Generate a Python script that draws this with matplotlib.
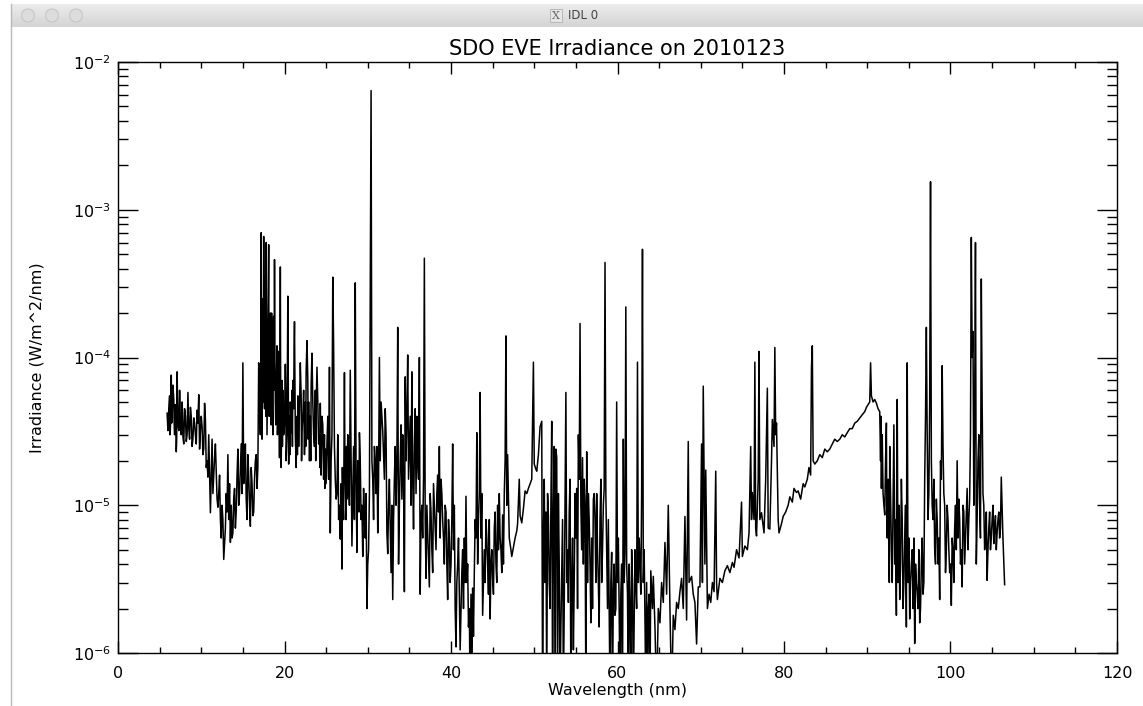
import numpy as np
import matplotlib
matplotlib.use("Agg")
import matplotlib.pyplot as plt
from matplotlib.ticker import LogLocator, MultipleLocator, NullFormatter
from matplotlib.patches import Circle, Rectangle
from matplotlib.lines import Line2D

# spectrum, (wavelength nm, irradiance W/m^2/nm)
soft_xray = [
    (5.9, 4.2e-5), (6.0, 3.2e-5), (6.2, 5.5e-5), (6.3, 3.4e-5), (6.4, 7.6e-5),
    (6.5, 4.0e-5), (6.7, 5.2e-5), (6.8, 3.0e-5), (7.0, 2.3e-5), (7.1, 8.0e-5),
    (7.2, 3.6e-5), (7.4, 6.0e-5), (7.5, 3.3e-5), (7.7, 5.0e-5), (7.8, 2.9e-5),
    (8.0, 4.5e-5), (8.2, 2.7e-5), (8.4, 5.8e-5), (8.5, 3.3e-5), (8.7, 4.6e-5),
    (8.9, 2.5e-5), (9.1, 3.9e-5), (9.3, 3.0e-5), (9.5, 4.4e-5), (9.7, 5.6e-5),
    (9.8, 2.4e-5), (10.0, 4.0e-5), (10.2, 2.2e-5), (10.4, 4.9e-5), (10.6, 1.8e-5),
    (10.8, 1.55e-5), (10.9, 3.0e-5), (11.1, 8.9e-6), (11.3, 2.8e-5), (11.4, 1.2e-5),
    (11.6, 2.1e-5), (11.7, 2.6e-5), (11.9, 1.1e-5), (12.0, 9.7e-6), (12.2, 1.6e-5),
    (12.4, 6.0e-6), (12.6, 8.0e-6), (12.7, 4.3e-6), (12.9, 7.0e-6), (13.0, 1.2e-5),
    (13.2, 2.2e-5), (13.3, 8.0e-6), (13.5, 5.6e-6), (13.6, 1.0e-5), (13.8, 6.5e-6),
    (14.0, 1.3e-5), (14.2, 9.0e-6), (14.4, 2.4e-5), (14.6, 1.2e-5), (14.8, 2.6e-5),
    (15.0, 9.2e-5), (15.1, 1.4e-5), (15.3, 2.6e-5), (15.5, 8.0e-6), (15.7, 1.6e-5),
    (15.9, 7.2e-6), (16.1, 1.4e-5), (16.3, 9.0e-6), (16.5, 2.0e-5), (16.7, 1.3e-5),
    (16.9, 9.2e-5), (17.0, 4.2e-5),
]

iron_lines = [
    (17.1, 3.0e-5), (17.2, 7.0e-4), (17.3, 2.8e-5), (17.4, 1.5e-4), (17.5, 6.6e-4),
    (17.6, 4.5e-5), (17.7, 2.0e-4), (17.8, 6.0e-4), (17.9, 3.0e-5), (18.0, 1.0e-4),
    (18.1, 5.8e-4), (18.2, 6.0e-5), (18.3, 2.0e-4), (18.4, 3.5e-5), (18.5, 1.1e-4),
    (18.6, 3.0e-5), (18.7, 1.9e-4), (18.8, 4.6e-4), (18.9, 5.0e-5), (19.0, 4.0e-5),
    (19.1, 1.2e-4), (19.2, 3.8e-5), (19.3, 8.0e-5), (19.4, 2.1e-5), (19.5, 4.1e-4),
    (19.6, 1.8e-5), (19.8, 6.0e-5), (19.9, 3.0e-5), (20.1, 9.0e-5), (20.2, 2.0e-5),
    (20.4, 2.6e-4), (20.5, 1.9e-5), (20.7, 5.0e-5), (20.8, 3.1e-5), (21.0, 7.0e-5),
    (21.2, 1.75e-4), (21.3, 3.0e-5), (21.4, 1.8e-5), (21.6, 5.5e-5), (21.7, 2.5e-5),
    (21.9, 9.2e-5), (22.1, 3.2e-5), (22.3, 6.0e-5), (22.4, 2.2e-5), (22.6, 8.0e-5),
    (22.7, 1.3e-4), (22.9, 5.0e-5), (23.0, 2.0e-5), (23.2, 6.5e-5), (23.3, 1.07e-4),
    (23.5, 3.0e-5), (23.6, 2.5e-5), (23.8, 4.5e-5), (23.9, 8.6e-5), (24.1, 2.6e-5),
    (24.3, 4.9e-5), (24.4, 1.6e-5), (24.6, 3.5e-5), (24.7, 1.5e-5), (24.9, 2.4e-5),
    (25.0, 1.4e-5), (25.2, 4.0e-5), (25.4, 8.6e-5), (25.5, 6.5e-6), (25.6, 2.0e-5),
    (25.8, 3.5e-4), (25.9, 1.2e-4), (26.1, 1.5e-5), (26.2, 1.1e-5), (26.4, 3.0e-5),
    (26.5, 8.0e-6), (26.7, 5.9e-6), (26.8, 1.4e-5), (26.9, 3.7e-6), (27.0, 1.2e-5),
    (27.2, 7.9e-5), (27.3, 1.5e-5), (27.5, 1.1e-5), (27.6, 3.0e-5), (27.8, 1.0e-5),
    (27.9, 8.2e-5), (28.0, 2.0e-5), (28.1, 5.3e-6), (28.3, 2.5e-5), (28.5, 3.2e-4),
    (28.6, 1.5e-5), (28.7, 4.8e-6), (28.9, 1.5e-5), (29.0, 3.1e-5), (29.2, 8.0e-6),
    (29.4, 4.5e-6), (29.5, 1.3e-5), (29.7, 6.0e-6), (29.9, 2.0e-6), (30.1, 5.0e-6),
    (30.2, 1.2e-5),
]

he_ii_region = [
    (30.4, 6.4e-3), (30.5, 2.0e-5), (30.7, 8.0e-6), (30.9, 2.0e-5), (31.0, 1.2e-5),
    (31.2, 6.5e-6), (31.4, 1.0e-4), (31.5, 2.0e-5), (31.7, 4.0e-5), (31.8, 3.2e-5),
    (32.0, 1.5e-5), (32.1, 4.5e-5), (32.3, 6.5e-6), (32.4, 4.7e-6), (32.6, 1.5e-5),
    (32.8, 3.5e-6), (33.0, 2.3e-6), (33.1, 8.0e-6), (33.3, 2.5e-5), (33.4, 1.0e-5),
    (33.6, 1.6e-4), (33.7, 4.0e-6), (33.9, 2.0e-5), (34.1, 1.1e-5), (34.2, 3.0e-5),
    (34.4, 2.6e-6), (34.5, 7.4e-5), (34.6, 2.0e-5), (34.8, 1.04e-4), (34.9, 1.5e-5),
    (35.1, 4.0e-5), (35.2, 1.0e-5), (35.3, 8.0e-5), (35.5, 6.9e-6), (35.6, 2.5e-5),
    (35.8, 1.2e-5), (35.9, 4.0e-5), (36.1, 1.5e-5), (36.2, 1.0e-4), (36.3, 2.5e-6),
    (36.5, 1.0e-5), (36.6, 6.0e-6), (36.8, 4.7e-4), (36.9, 8.0e-6), (37.0, 3.2e-6),
    (37.2, 6.5e-6), (37.4, 2.8e-6), (37.6, 9.0e-6), (37.8, 3.5e-6), (38.0, 1.0e-5),
    (38.2, 5.0e-6), (38.4, 1.6e-5), (38.6, 2.5e-5), (38.7, 6.0e-6), (38.9, 1.2e-5),
    (39.0, 7.9e-6), (39.2, 4.0e-6), (39.4, 9.0e-6), (39.6, 2.3e-6), (39.8, 6.0e-6),
    (40.0, 4.0e-6), (40.2, 2.6e-5), (40.3, 5.0e-6), (40.5, 2.0e-6), (40.6, 1.1e-6),
    (40.8, 4.0e-6), (41.0, 2.5e-6), (41.1, 1.05e-6), (41.3, 3.5e-6), (41.5, 2.0e-6),
    (41.6, 6.0e-6), (41.8, 1.15e-5), (41.9, 3.0e-6), (42.1, 1.5e-6), (42.3, 5.0e-7),
    (42.4, 2.5e-6), (42.6, 2.75e-6), (42.7, 1.3e-6), (42.9, 8.0e-6), (43.1, 3.1e-5),
    (43.2, 4.0e-6), (43.4, 1.2e-5), (43.5, 5.8e-5), (43.6, 6.0e-6), (43.8, 1.8e-6),
    (44.0, 5.0e-6), (44.1, 3.0e-6), (44.3, 6.0e-6), (44.5, 2.5e-6), (44.7, 1.7e-6),
    (44.8, 4.0e-6), (45.0, 3.2e-6), (45.2, 7.0e-6), (45.4, 4.0e-6), (45.6, 1.0e-5),
    (45.7, 5.0e-6), (45.9, 6.0e-6), (46.1, 3.5e-6), (46.2, 8.6e-6), (46.4, 1.2e-5),
    (46.6, 1.4e-4), (46.7, 1.0e-5), (46.8, 2.2e-5), (47.0, 6.0e-6), (47.2, 5.0e-6),
    (47.3, 4.5e-6), (47.5, 5.2e-6), (47.7, 6.0e-6), (47.9, 6.7e-6), (48.0, 7.5e-6),
    (48.2, 1.5e-5), (48.3, 8.5e-6), (48.5, 7.6e-6), (48.7, 9.5e-6), (48.9, 1.25e-5),
    (49.1, 1.2e-5), (49.3, 1.3e-5), (49.5, 1.4e-5), (49.7, 1.5e-5), (49.9, 9.3e-5),
    (50.0, 1.9e-5), (50.2, 1.75e-5), (50.3, 1.7e-5), (50.5, 2.2e-5), (50.7, 3.4e-5),
    (50.9, 3.7e-5),
]

he_i_region = [
    (51.0, 5.0e-7), (51.2, 1.5e-5), (51.4, 9.0e-6), (51.5, 5.0e-7), (51.7, 8.5e-6),
    (51.9, 2.0e-6), (52.1, 3.7e-5), (52.2, 5.0e-7), (52.4, 2.5e-5), (52.6, 2.4e-5),
    (52.7, 2.1e-5), (52.8, 5.0e-7), (53.0, 4.0e-6), (53.2, 1.5e-6), (53.4, 8.0e-6),
    (53.6, 2.0e-6), (53.8, 5.8e-5), (54.0, 5.0e-6), (54.1, 2.2e-6), (54.3, 1.5e-5),
    (54.5, 3.0e-6), (54.7, 1.05e-6), (54.9, 1.2e-5), (55.1, 1.3e-5), (55.3, 3.0e-5),
    (55.5, 1.7e-4), (55.6, 1.0e-5), (55.8, 2.1e-5), (55.9, 4.0e-6), (56.1, 1.0e-5),
    (56.3, 2.3e-5), (56.4, 3.0e-6), (56.6, 8.0e-6), (56.8, 1.6e-6), (56.9, 6.0e-6),
    (57.1, 1.1e-5), (57.2, 1.2e-5), (57.4, 3.0e-6), (57.6, 5.0e-6), (57.8, 1.5e-6),
    (58.0, 1.5e-5), (58.2, 5.0e-6), (58.4, 1.3e-5), (58.5, 4.4e-4), (58.6, 1.2e-5),
    (58.8, 2.0e-6), (59.1, 5.0e-7), (59.3, 4.8e-6), (59.5, 2.5e-6), (59.7, 1.8e-6),
    (59.9, 5.0e-5), (60.0, 3.0e-6), (60.3, 5.0e-7), (60.5, 4.0e-6), (60.7, 2.8e-5),
    (60.8, 3.0e-6), (61.0, 2.2e-4), (61.1, 4.0e-6), (61.3, 5.0e-7), (61.5, 2.0e-6),
    (61.7, 5.0e-6), (62.0, 1.7e-6), (62.2, 3.0e-6), (62.4, 9.3e-5), (62.5, 3.0e-6),
    (62.7, 4.1e-6), (62.9, 1.2e-5), (63.0, 5.4e-4), (63.1, 3.0e-6), (63.3, 1.7e-6),
    (63.6, 5.0e-7), (63.8, 2.5e-6),
]

lyman_cont = [
    (64.0, 3.6e-6), (64.2, 2.0e-6), (64.3, 3.3e-6), (64.5, 1.5e-6), (64.7, 5.0e-7),
    (64.9, 2.0e-6), (65.1, 1.6e-6), (65.3, 3.0e-6), (65.5, 2.2e-6), (65.7, 5.6e-6),
    (65.9, 2.5e-6), (66.1, 1.0e-5), (66.3, 2.0e-6), (66.5, 5.0e-7), (66.7, 1.8e-6),
    (66.9, 1.44e-6), (67.1, 2.2e-6), (67.3, 2.0e-6), (67.5, 2.6e-6), (67.7, 3.2e-6),
    (67.9, 2.0e-6), (68.1, 8.4e-6), (68.3, 1.67e-6), (68.5, 2.7e-5), (68.6, 3.0e-6),
    (68.9, 3.3e-6), (69.1, 2.5e-6), (69.3, 2.2e-6), (69.5, 1.15e-6), (69.7, 2.8e-6),
    (69.9, 2.8e-6), (70.1, 2.6e-5), (70.2, 3.0e-6), (70.3, 6.4e-5), (70.5, 4.0e-6),
    (70.6, 1.73e-5), (70.8, 2.0e-6), (71.0, 2.5e-6), (71.2, 2.2e-6), (71.4, 3.0e-6),
    (71.6, 2.6e-6), (71.8, 1.7e-5), (71.9, 3.0e-6), (72.0, 2.3e-6), (72.3, 3.2e-6),
    (72.6, 3.0e-6), (72.9, 3.6e-6), (73.2, 3.9e-6), (73.5, 3.5e-6), (73.8, 4.1e-6),
    (74.0, 3.8e-6), (74.3, 5.0e-6), (74.6, 4.4e-6), (74.9, 1.05e-5), (75.0, 4.5e-6),
    (75.3, 5.3e-6), (75.6, 5.0e-6), (75.8, 6.5e-6), (76.0, 2.5e-5), (76.1, 8.0e-6),
    (76.2, 1.22e-5), (76.4, 8.0e-6), (76.5, 9.3e-5), (76.6, 7.0e-6), (76.7, 6.2e-6),
    (76.9, 1.5e-5), (77.0, 1.1e-4), (77.1, 8.0e-6), (77.3, 8.9e-6), (77.6, 6.5e-6),
    (77.8, 1.5e-5), (78.0, 6.2e-5), (78.1, 7.0e-6), (78.3, 6.9e-6), (78.5, 2.0e-5),
    (78.6, 3.8e-5), (78.8, 2.5e-5), (78.9, 1.17e-4), (79.0, 3.0e-5), (79.1, 3.6e-5),
    (79.3, 8.0e-6), (79.4, 6.5e-6), (79.7, 7.5e-6), (79.9, 8.4e-6), (80.2, 9.0e-6),
    (80.5, 1.0e-5), (80.7, 1.14e-5), (81.0, 1.05e-5), (81.2, 1.3e-5), (81.5, 1.22e-5),
    (81.7, 1.25e-5), (82.0, 1.1e-5), (82.3, 1.4e-5), (82.5, 1.33e-5), (82.8, 1.5e-5),
    (83.0, 1.8e-5), (83.2, 1.6e-5), (83.3, 8.6e-5), (83.4, 1.2e-4), (83.5, 2.0e-5),
    (83.7, 1.9e-5), (84.0, 2.0e-5), (84.3, 2.2e-5), (84.6, 2.1e-5), (84.9, 2.4e-5),
    (85.2, 2.3e-5), (85.5, 2.4e-5), (85.8, 2.6e-5), (86.1, 2.8e-5), (86.4, 2.7e-5),
    (86.7, 2.8e-5), (87.0, 3.0e-5), (87.3, 2.9e-5), (87.6, 3.1e-5), (87.9, 3.3e-5),
    (88.2, 3.3e-5), (88.5, 3.6e-5), (88.8, 3.7e-5), (89.1, 3.9e-5), (89.4, 4.1e-5),
    (89.7, 4.3e-5), (89.9, 4.6e-5), (90.1, 4.8e-5), (90.3, 5.0e-5), (90.4, 9.2e-5),
    (90.5, 5.5e-5), (90.7, 5.0e-5), (90.9, 5.2e-5), (91.1, 4.9e-5), (91.3, 4.5e-5),
    (91.5, 4.3e-5),
]

lyman_lines = [
    (91.6, 2.0e-5), (91.7, 1.3e-5), (91.8, 3.0e-5), (92.0, 1.0e-5), (92.1, 8.6e-6),
    (92.3, 3.6e-5), (92.4, 6.0e-6), (92.6, 4.5e-6), (92.7, 2.5e-5), (92.9, 5.0e-6),
    (93.0, 3.0e-6), (93.2, 3.5e-5), (93.3, 4.0e-6), (93.5, 1.8e-6), (93.6, 5.2e-5),
    (93.7, 3.0e-6), (93.9, 2.3e-6), (94.1, 1.5e-5), (94.3, 2.0e-6), (94.5, 6.0e-6),
    (94.7, 1.5e-6), (94.8, 9.2e-5), (94.9, 3.0e-6), (95.1, 1.7e-6), (95.3, 4.0e-6),
    (95.5, 2.0e-6), (95.6, 6.0e-6), (95.7, 1.16e-6), (95.9, 3.0e-6), (96.1, 2.0e-6),
    (96.3, 1.6e-6), (96.5, 4.0e-6), (96.7, 2.5e-6), (96.9, 1.5e-5), (97.0, 4.0e-5),
    (97.1, 1.6e-4), (97.3, 8.0e-6), (97.5, 5.0e-5), (97.6, 1.55e-3), (97.7, 2.0e-5),
    (97.9, 8.0e-6), (98.1, 5.0e-6), (98.3, 1.1e-5), (98.5, 4.0e-6), (98.7, 2.3e-6),
    (98.8, 2.0e-5), (99.0, 8.8e-5), (99.1, 2.5e-5), (99.3, 1.0e-5), (99.5, 5.0e-6),
    (99.7, 8.0e-6), (99.9, 3.5e-6), (100.1, 2.1e-6), (100.3, 5.0e-6), (100.5, 7.0e-6),
    (100.8, 2.0e-5), (100.9, 6.0e-6), (101.1, 8.0e-6), (101.3, 5.0e-6), (101.4, 2.8e-6),
    (101.6, 9.0e-6), (101.8, 6.0e-6), (102.0, 1.3e-5), (102.2, 8.0e-6), (102.4, 3.0e-5),
    (102.5, 6.5e-4), (102.6, 1.0e-4), (102.7, 1.5e-4), (102.8, 1.0e-5), (102.9, 4.0e-5),
    (103.0, 6.0e-4), (103.1, 4.0e-6), (103.3, 2.0e-5), (103.5, 1.0e-5), (103.7, 3.4e-4),
    (103.8, 5.0e-5), (104.0, 1.0e-5), (104.2, 6.0e-6), (104.4, 3.1e-6), (104.6, 7.0e-6),
    (104.8, 5.0e-6), (105.0, 8.0e-6), (105.2, 5.5e-6), (105.4, 8.5e-6), (105.6, 6.5e-6),
    (105.8, 9.0e-6), (106.0, 7.0e-6), (106.1, 1.55e-5), (106.3, 6.0e-6), (106.5, 2.9e-6),
]

# weaker samples between the lines
band_fill = [
    (6.1, 4.5e-5), (6.25, 3.0e-5), (6.35, 6.0e-5), (6.45, 3.6e-5), (6.6, 6.5e-5),
    (6.75, 3.5e-5), (6.9, 4.8e-5), (7.05, 2.8e-5), (7.15, 5.5e-5), (7.3, 3.2e-5),
    (7.45, 4.8e-5), (7.6, 3.0e-5), (7.75, 4.2e-5), (7.9, 2.6e-5), (8.1, 4.0e-5),
    (8.3, 3.0e-5), (8.45, 4.4e-5), (8.6, 2.8e-5), (8.8, 4.0e-5), (9.0, 2.8e-5),
    (9.2, 3.6e-5), (9.4, 2.6e-5), (9.6, 3.6e-5), (9.9, 3.2e-5), (10.1, 3.4e-5),
    (10.3, 2.4e-5), (10.5, 3.8e-5), (10.7, 2.0e-5),
    (12.1, 1.2e-5), (12.3, 8.0e-6), (12.5, 1.0e-5), (12.8, 5.5e-6), (13.1, 9.0e-6),
    (13.4, 1.4e-5), (13.7, 6.0e-6), (13.9, 1.1e-5), (14.1, 7.0e-6), (14.3, 1.6e-5),
    (14.5, 1.0e-5), (14.7, 1.8e-5), (14.9, 1.2e-5), (15.2, 2.0e-5), (15.4, 1.1e-5),
    (15.6, 2.2e-5), (15.8, 1.0e-5), (16.0, 1.8e-5), (16.2, 8.5e-6), (16.4, 1.5e-5),
    (16.6, 2.2e-5), (16.8, 1.8e-5),
    (17.15, 1.0e-4), (17.25, 4.0e-5), (17.35, 2.5e-4), (17.45, 5.0e-5), (17.55, 1.2e-4),
    (17.65, 3.5e-4), (17.75, 4.0e-5), (17.85, 1.5e-4), (17.95, 6.0e-5), (18.05, 2.5e-4),
    (18.15, 4.0e-5), (18.25, 1.3e-4), (18.35, 5.0e-5), (18.45, 2.0e-4), (18.55, 4.5e-5),
    (18.65, 1.2e-4), (18.75, 6.0e-5), (18.85, 1.0e-4), (18.95, 3.5e-5), (19.05, 8.0e-5),
    (19.15, 3.0e-5), (19.25, 1.1e-4), (19.35, 4.0e-5), (19.45, 7.0e-5), (19.55, 3.0e-5),
    (19.7, 7.0e-5), (19.75, 2.5e-5),
    (20.0, 3.5e-5), (20.15, 6.0e-5), (20.3, 3.0e-5), (20.35, 8.0e-5), (20.6, 4.0e-5),
    (20.65, 2.2e-5), (20.9, 6.0e-5), (20.95, 2.5e-5), (21.1, 4.5e-5), (21.15, 1.1e-4),
    (21.5, 4.0e-5), (21.55, 2.2e-5), (21.8, 4.5e-5), (22.0, 5.5e-5), (22.05, 2.0e-5),
    (22.2, 4.0e-5), (22.5, 5.0e-5), (22.55, 2.5e-5), (22.8, 7.0e-5), (22.85, 2.8e-5),
    (23.1, 4.0e-5), (23.15, 2.0e-5), (23.4, 5.0e-5), (23.7, 6.0e-5), (23.75, 2.0e-5),
    (24.0, 5.0e-5), (24.2, 3.0e-5), (24.25, 1.8e-5), (24.5, 4.0e-5), (24.8, 3.0e-5),
    (24.85, 1.3e-5), (25.1, 2.6e-5), (25.3, 1.5e-5),
    (25.7, 3.0e-5), (26.0, 2.5e-5), (26.3, 1.2e-5), (26.45, 2.0e-5), (26.6, 1.0e-5),
    (26.85, 7.0e-6), (26.95, 1.8e-5), (27.1, 8.0e-6), (27.25, 2.2e-5), (27.4, 8.0e-6),
    (27.45, 2.5e-5), (27.7, 1.4e-5), (27.85, 2.6e-5), (28.2, 1.2e-5), (28.4, 8.0e-6),
    (28.8, 2.0e-5), (28.95, 9.0e-6), (29.1, 2.0e-5), (29.3, 1.0e-5), (29.6, 8.0e-6),
    (29.8, 1.2e-5), (30.0, 4.0e-6),
    (30.6, 1.5e-5), (30.8, 2.5e-5), (31.1, 2.5e-5), (31.3, 1.5e-5), (31.6, 5.0e-5),
    (31.9, 2.2e-5), (32.2, 3.0e-5), (32.5, 1.0e-5), (32.7, 7.0e-6), (32.9, 1.0e-5),
    (33.2, 1.5e-5), (33.5, 2.0e-5), (33.8, 1.0e-5), (34.0, 3.5e-5), (34.3, 1.5e-5),
    (34.7, 4.0e-5), (35.0, 2.5e-5), (35.4, 1.5e-5), (35.7, 4.5e-5), (36.0, 2.0e-5),
    (36.4, 8.0e-6), (36.7, 1.5e-5), (37.1, 1.0e-5), (37.3, 4.0e-6), (37.5, 1.2e-5),
    (37.7, 5.0e-6), (37.9, 1.4e-5), (38.1, 7.0e-6), (38.3, 1.2e-5), (38.5, 9.0e-6),
    (38.8, 1.5e-5), (39.1, 6.0e-6), (39.3, 1.0e-5), (39.5, 4.0e-6), (39.7, 8.0e-6),
    (39.9, 3.0e-6), (40.1, 8.0e-6),
    (40.4, 1.0e-5), (40.7, 3.0e-6), (40.9, 6.0e-6), (41.2, 2.0e-6), (41.4, 5.0e-6),
    (41.7, 3.0e-6), (42.0, 4.0e-6), (42.2, 2.0e-6), (42.5, 5.0e-7), (42.8, 3.5e-6),
    (43.0, 6.0e-6), (43.3, 8.0e-6), (43.7, 1.2e-5), (43.9, 3.0e-6), (44.2, 8.0e-6),
    (44.4, 4.0e-6), (44.6, 8.0e-6), (44.9, 5.0e-6), (45.1, 2.5e-6), (45.3, 9.0e-6),
    (45.5, 3.0e-6), (45.8, 1.2e-5), (46.0, 5.0e-6), (46.3, 4.0e-6), (46.5, 2.0e-5),
    (51.1, 6.0e-6), (51.3, 3.0e-6), (51.6, 1.2e-5), (51.8, 3.0e-6), (52.0, 1.0e-5),
    (52.3, 8.0e-6), (52.5, 5.0e-7), (52.9, 1.2e-5), (53.1, 5.0e-7), (53.3, 3.5e-6),
    (53.5, 5.0e-7), (53.7, 1.0e-5), (53.9, 3.0e-6), (54.2, 9.0e-6), (54.4, 5.0e-7),
    (54.6, 6.0e-6), (54.8, 3.0e-6), (55.0, 6.0e-6), (55.2, 2.0e-6), (55.4, 1.5e-5),
    (55.7, 5.0e-6), (56.0, 1.5e-5), (56.2, 5.0e-7), (56.5, 1.2e-5), (56.7, 4.0e-6),
    (57.0, 2.0e-6), (57.3, 8.0e-6), (57.5, 1.2e-5), (57.7, 3.0e-6), (57.9, 8.0e-6),
    (58.1, 3.0e-6), (58.3, 1.0e-5), (58.7, 5.0e-6), (58.9, 8.0e-6), (59.0, 2.0e-6),
    (59.2, 3.0e-6), (59.4, 5.0e-7), (59.6, 4.0e-6), (59.8, 2.0e-6), (60.1, 6.0e-6),
    (60.2, 2.0e-6), (60.4, 2.5e-6), (60.6, 5.0e-7), (60.9, 5.0e-6), (61.2, 2.5e-6),
    (61.4, 4.0e-6), (61.6, 5.0e-7), (61.8, 3.0e-6), (61.9, 5.0e-7), (62.1, 5.0e-6),
    (62.3, 2.0e-6), (62.6, 6.0e-6), (62.8, 2.5e-6), (63.2, 5.0e-6), (63.4, 5.0e-7),
    (63.5, 3.0e-6), (63.7, 2.0e-6), (63.9, 5.0e-7),
    (91.65, 4.0e-5), (91.75, 2.5e-5), (91.9, 1.2e-5), (92.2, 2.0e-5), (92.35, 8.0e-6),
    (92.5, 1.5e-5), (92.65, 3.0e-6), (92.8, 1.2e-5), (93.1, 1.0e-5), (93.4, 8.0e-6),
    (93.55, 3.0e-5), (93.8, 1.0e-5), (94.0, 4.0e-6), (94.2, 8.0e-6), (94.4, 3.0e-6),
    (94.6, 1.0e-5), (94.75, 3.0e-5), (95.0, 6.0e-6), (95.2, 3.0e-6), (95.4, 5.0e-6),
    (95.8, 4.0e-6), (96.0, 2.5e-6), (96.2, 5.0e-6), (96.4, 2.0e-6), (96.6, 6.0e-6),
    (96.8, 3.0e-6), (97.2, 3.0e-5), (97.4, 1.2e-5), (97.8, 1.0e-5), (98.0, 1.5e-5),
    (98.2, 4.0e-6), (98.4, 8.0e-6), (98.6, 6.0e-6), (98.9, 1.5e-5), (99.2, 1.2e-5),
    (99.4, 3.5e-6), (99.6, 1.0e-5), (99.8, 5.0e-6), (100.0, 4.0e-6), (100.2, 6.0e-6),
    (100.4, 3.0e-6), (100.6, 1.0e-5), (100.7, 5.0e-6), (101.0, 1.1e-5), (101.2, 4.0e-6),
    (101.5, 1.0e-5), (101.7, 4.0e-6), (101.9, 9.0e-6), (102.1, 5.0e-6), (102.3, 1.1e-5),
    (103.2, 8.0e-6), (103.4, 3.0e-5), (103.6, 6.0e-6), (103.9, 1.2e-5), (104.1, 5.0e-6),
    (104.3, 9.0e-6), (104.5, 5.0e-6), (104.7, 9.0e-6), (104.9, 6.0e-6), (105.1, 1.0e-5),
    (105.3, 7.0e-6), (105.5, 5.0e-6), (105.7, 8.0e-6), (105.9, 6.0e-6),
]

segments = [soft_xray, iron_lines, he_ii_region, he_i_region, lyman_cont, lyman_lines, band_fill]
wave = np.array([p[0] for seg in segments for p in seg])
irr = np.array([p[1] for seg in segments for p in seg])
order = np.argsort(wave, kind="stable")
wave, irr = wave[order], irr[order]

title = "SDO EVE Irradiance on 2010123"
xlabel = "Wavelength (nm)"
ylabel = "Irradiance (W/m^2/nm)"

W, H = 1143, 706
fig = plt.figure(figsize=(W / 100, H / 100), dpi=100)
fig.patch.set_facecolor("white")

# plot area
ax = fig.add_axes([118 / W, 1 - 653 / H, (1117 - 118) / W, (653 - 62) / H])
ax.plot(wave, irr, color="black", lw=1.1)
ax.set_yscale("log")
ax.set_xlim(0, 120)
ax.set_ylim(1e-6, 1e-2)

ax.xaxis.set_major_locator(MultipleLocator(20))
ax.xaxis.set_minor_locator(MultipleLocator(5))
ax.yaxis.set_major_locator(LogLocator(base=10, numticks=10))
ax.yaxis.set_minor_locator(LogLocator(base=10, subs=np.arange(2, 10), numticks=10))
ax.yaxis.set_minor_formatter(NullFormatter())

ax.tick_params(which="both", direction="in", top=True, right=True, width=1.0, labelsize=11.5)
ax.tick_params(axis="x", which="major", length=8.6, pad=9)
ax.tick_params(axis="x", which="minor", length=4.3)
ax.tick_params(axis="y", which="major", length=14.4, pad=5)
ax.tick_params(axis="y", which="minor", length=7.2)
for s in ax.spines.values():
    s.set_linewidth(1.0)

ax.set_title(title, fontsize=15, pad=5)
ax.set_xlabel(xlabel, fontsize=11.5, labelpad=2)
ax.set_ylabel(ylabel, fontsize=11.5, labelpad=20)

# window chrome (title bar and left border)
bar = fig.add_axes([11 / W, 1 - 27 / H, 1 - 11 / W, 23 / H])
grad = np.linspace(0.925, 0.83, 50).reshape(-1, 1)
bar.imshow(grad, cmap="gray", vmin=0, vmax=1, aspect="auto",
           extent=[11, W, 27, 4])
bar.set_xlim(11, W)
bar.set_ylim(27, 4)
bar.axis("off")
for cx in (28, 52, 76):
    bar.add_patch(Circle((cx, 15.5), 6.5, facecolor="#dcdcdc", edgecolor="#c6c6c6", lw=0.8))
bar.add_patch(Rectangle((550, 9), 12, 13, facecolor="#e6e6e6", edgecolor="#b0b0b0", lw=0.6))
bar.text(556, 15.8, "X", fontsize=8, family="DejaVu Serif", color="#666666",
         ha="center", va="center")
bar.text(568, 15.5, "IDL 0", fontsize=8.5, color="#444444", ha="left", va="center")

fig.add_artist(Line2D([10.5 / W, 10.5 / W], [0, 1 - 4 / H], transform=fig.transFigure,
                      color="#b8b8b8", lw=1.0))

fig.savefig("out.png", dpi=100)
